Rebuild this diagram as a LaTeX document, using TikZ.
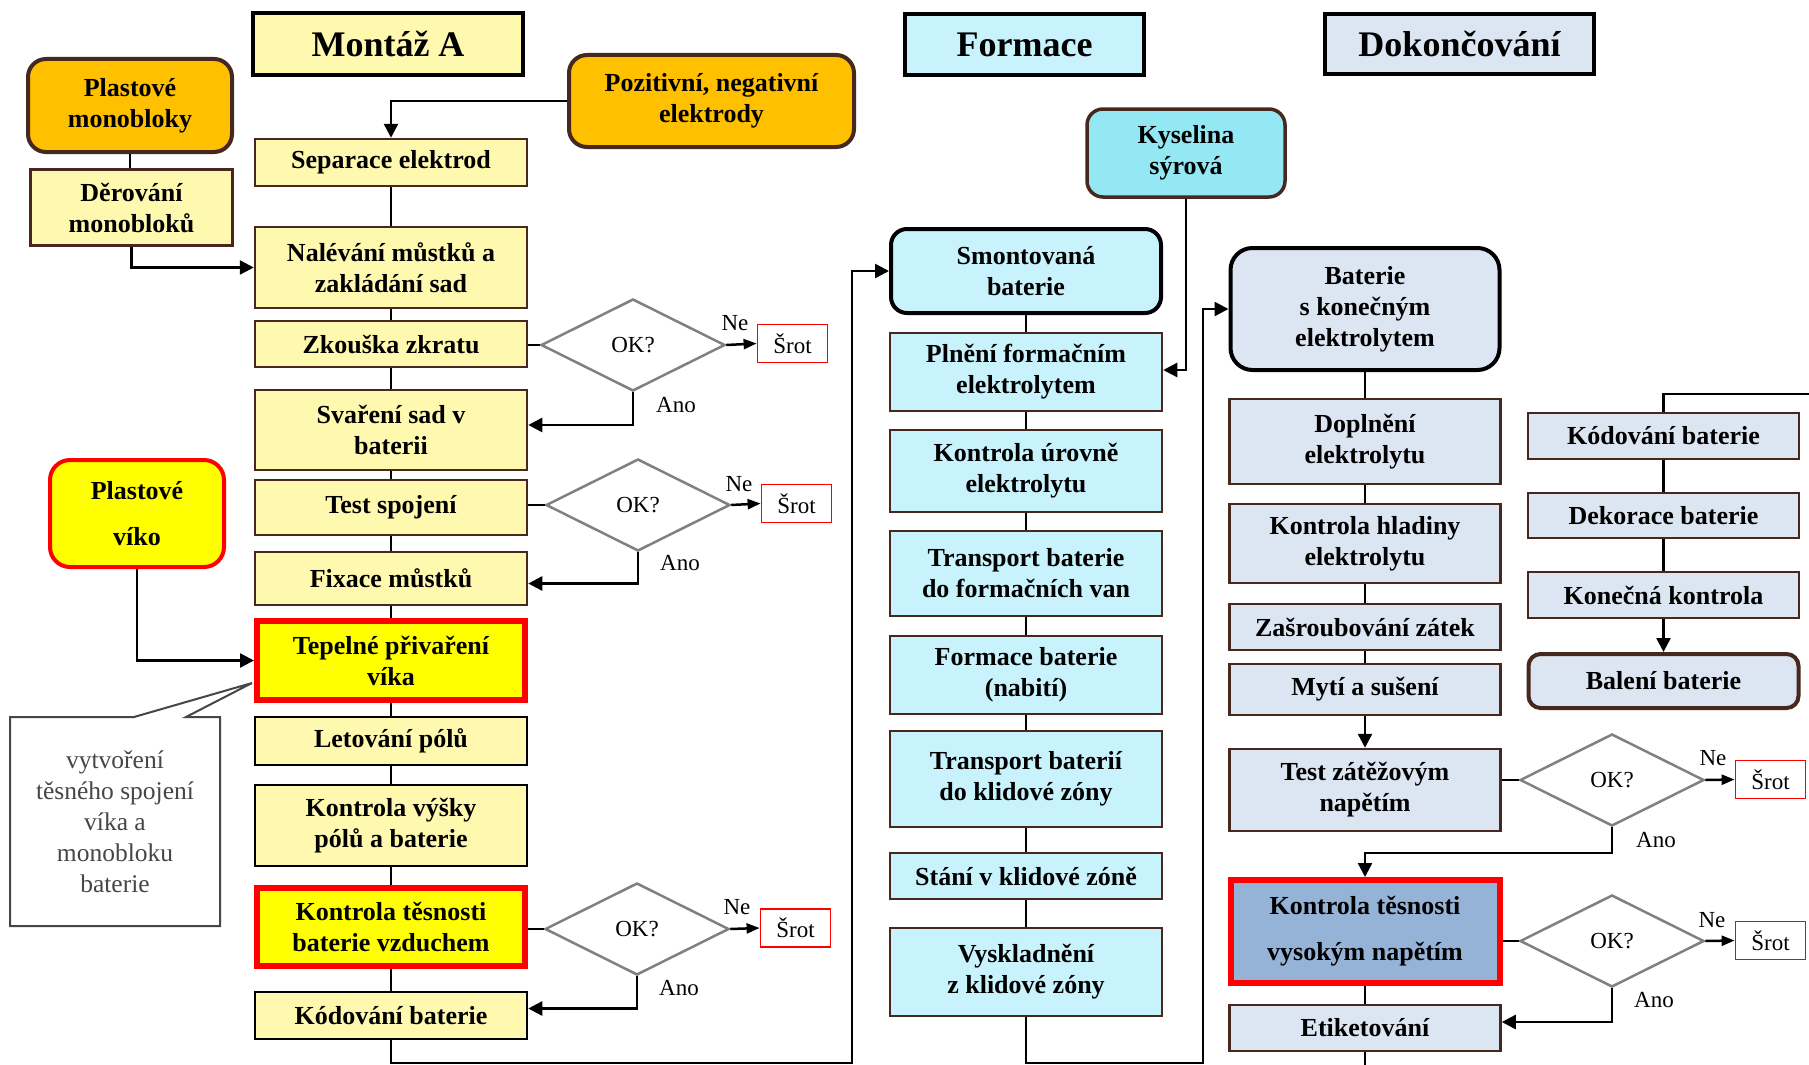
\documentclass[tikz,border=0pt]{standalone}
\usepackage{fontspec}
\setmainfont{Liberation Serif}
\usetikzlibrary{arrows.meta,shapes.geometric,calc}
\definecolor{ylw}{RGB}{255,248,175}
\definecolor{org}{RGB}{255,192,0}
\definecolor{brt}{RGB}{255,255,0}
\definecolor{cyl}{RGB}{200,243,252}
\definecolor{cyd}{RGB}{147,232,243}
\definecolor{bgr}{RGB}{220,230,242}
\definecolor{bdk}{RGB}{149,179,215}
\definecolor{brd}{RGB}{70,40,30}
\definecolor{dia}{RGB}{128,128,128}
\definecolor{cal}{RGB}{70,70,70}
\newcommand\boxfont{\fontsize{26}{31}\selectfont\bfseries}
\newcommand\titfont{\fontsize{36}{40}\selectfont\bfseries}
\newcommand\lblfont{\fontsize{23}{27}\selectfont}
\begin{document}
\begin{tikzpicture}[x=1pt,y=-1pt,
  base/.style={line width=2.5pt, align=center, font=\boxfont, inner sep=2pt, text=black},
  pbox/.style={base, draw=brd, fill=ylw, minimum width=272pt},
  kbox/.style={pbox, draw=black},
  rbox/.style={base, draw=red, line width=6pt, fill=brt, minimum width=268pt},
  fbox/.style={base, draw=brd, fill=cyl, minimum width=272pt},
  dbox/.style={base, draw=brd, fill=bgr, minimum width=271pt},
  rnd/.style={base, rounded corners=16pt, line width=4pt},
  tit/.style={base, draw=black, line width=4pt, font=\titfont},
  dec/.style={diamond, draw=dia, line width=2.5pt, fill=white, minimum width=184pt, minimum height=92pt, inner sep=0pt, aspect=2, font=\lblfont},
  srot/.style={draw=red, line width=1.8pt, minimum width=70pt, minimum height=38pt, inner sep=0pt, font=\lblfont},
  lbl/.style={font=\lblfont, inner sep=0pt},
  conn/.style={draw=black, line width=2.5pt},
  arr/.style={-{Triangle[length=14pt,width=14pt]}},
  sarr/.style={-{Triangle[length=13pt,width=10pt]}}
]
\useasboundingbox (0,0) rectangle (1809,1065);

% titles
\node[tit, fill=ylw, minimum width=270pt, minimum height=62pt] (tA) at (388,44) {Montáž A};
\node[tit, fill=cyl, minimum width=239pt, minimum height=61pt] (tF) at (1024.5,44.5) {Formace};
\node[tit, fill=bgr, minimum width=269pt, minimum height=60pt] (tD) at (1459.5,44) {Dokončování};

% inputs
\node[rnd, draw=brd, fill=org, minimum width=204pt, minimum height=93pt, rounded corners=18pt] (mono) at (130,105.5) {Plastové\\monobloky};
\node[pbox, minimum width=202pt, minimum height=76pt] (der) at (131.5,207.5) {Děrování\\monobloků};
\node[rnd, draw=brd, fill=org, minimum width=285pt, minimum height=92pt, rounded corners=18pt] (poz) at (711.5,101) {Pozitivní, negativní\\elektrody};
\node[rnd, draw=red, fill=brt, minimum width=174pt, minimum height=107pt, rounded corners=20pt, font=\fontsize{26}{46}\selectfont\bfseries] (vik) at (137,513.5) {Plastové\\víko};
\node[rnd, draw=brd, fill=cyd, minimum width=198pt, minimum height=88pt, line width=3.5pt] (kys) at (1186,153) {Kyselina\\sýrová};

% Montaz column
\node[pbox, minimum height=47pt] (sep) at (391,162.5) {Separace elektrod};
\node[pbox, minimum height=81pt] (nal) at (391,267.5) {Nalévání můstků a\\zakládání sad};
\node[pbox, minimum height=46pt] (zk) at (391,344) {Zkouška zkratu};
\node[pbox, minimum height=80pt] (sva) at (391,430) {Svaření sad v\\baterii};
\node[pbox, minimum height=55pt] (tst) at (391,507.5) {Test spojení};
\node[pbox, minimum height=53pt] (fix) at (391,578.5) {Fixace můstků};
\node[rbox, minimum height=79pt] (tep) at (391,660.5) {Tepelné přivaření\\víka};
\node[kbox, minimum height=48pt] (let) at (391,741) {Letování pólů};
\node[kbox, minimum height=81pt] (vys) at (391,825.5) {Kontrola výšky\\pólů a baterie};
\node[rbox, minimum height=78pt] (kts) at (391,927) {Kontrola těsnosti\\baterie vzduchem};
\node[kbox, minimum height=47pt] (kod) at (391,1015.5) {Kódování baterie};

% Formace column
\node[rnd, draw=black, fill=cyl, minimum width=270pt, minimum height=84pt] (smo) at (1026,271) {Smontovaná\\baterie};
\node[fbox, minimum height=78pt] (pln) at (1026,372) {Plnění formačním\\elektrolytem};
\node[fbox, minimum height=82pt] (kur) at (1026,471) {Kontrola úrovně\\elektrolytu};
\node[fbox, minimum height=85pt] (tr1) at (1026,573.5) {Transport baterie\\do formačních van};
\node[fbox, minimum height=78pt] (fb) at (1026,675) {Formace baterie\\(nabití)};
\node[fbox, minimum height=96pt] (tr2) at (1026,779) {Transport baterií\\do klidové zóny};
\node[fbox, minimum height=46pt] (sta) at (1026,876) {Stání v klidové zóně};
\node[fbox, minimum height=88pt] (vyk) at (1026,972) {Vyskladnění\\z klidové zóny};

% Dokonceni column
\node[rnd, draw=black, fill=bgr, minimum width=269pt, minimum height=122pt, rounded corners=22pt] (bsk) at (1365,309) {Baterie\\s konečným\\elektrolytem};
\node[dbox, minimum height=85pt] (dop) at (1365,441.5) {Doplnění\\elektrolytu};
\node[dbox, minimum height=79pt] (khl) at (1365,543.5) {Kontrola hladiny\\elektrolytu};
\node[dbox, minimum height=46pt] (zas) at (1365,627) {Zašroubování zátek};
\node[dbox, minimum height=51pt] (myt) at (1365,689.5) {Mytí a sušení};
\node[dbox, minimum height=82pt] (tz) at (1365,790) {Test zátěžovým\\napětím};
\node[base, draw=red, line width=6pt, fill=bdk, minimum width=269pt, minimum height=103pt, font=\fontsize{26}{46}\selectfont\bfseries] (kvn) at (1365,931.5) {Kontrola těsnosti\\vysokým napětím};
\node[dbox, minimum height=46pt] (eti) at (1365,1028) {Etiketování};

% right column
\node[dbox, minimum height=46pt] (kod2) at (1663.5,436) {Kódování baterie};
\node[dbox, minimum height=45pt] (dek) at (1663.5,515.5) {Dekorace baterie};
\node[dbox, minimum height=46pt] (kon) at (1663.5,595) {Konečná kontrola};
\node[rnd, draw=brd, fill=bgr, minimum width=270pt, minimum height=54pt, rounded corners=12pt] (bal) at (1663.5,681) {Balení baterie};

% decisions
\node[dec] (d1) at (633,345) {OK?};
\node[dec] (d2) at (638,505) {OK?};
\node[dec] (d3) at (637,929) {OK?};
\node[dec] (d4) at (1612,780) {OK?};
\node[dec] (d5) at (1612,941) {OK?};
\node[srot] (s1) at (792.5,343.5) {Šrot};
\node[srot] (s2) at (796.5,503.5) {Šrot};
\node[srot] (s3) at (795.5,928) {Šrot};
\node[srot] (s4) at (1770.5,779.5) {Šrot};
\node[srot] (s5) at (1770.5,940.5) {Šrot};
\node[lbl] (n1) at (735,323) {Ne};
\node[lbl] (n2) at (739,484) {Ne};
\node[lbl] (n3) at (737,907) {Ne};
\node[lbl] (n4) at (1713,758) {Ne};
\node[lbl] (n5) at (1712,920) {Ne};
\node[lbl] (a1) at (676,405) {Ano};
\node[lbl] (a2) at (680,563) {Ano};
\node[lbl] (a3) at (679,988) {Ano};
\node[lbl] (a4) at (1656,840) {Ano};
\node[lbl] (a5) at (1654,1000) {Ano};

% callout
\coordinate (tip) at (252,683);
\draw[draw=cal, line width=2pt, fill=white] (10,717) -- (134,717) -- (tip) -- (186,717) -- (220,717) -- (220,926) -- (10,926) -- cycle;
\node[font=\fontsize{25.5}{31}\selectfont, text=cal, align=center, inner sep=0pt] (cnote) at (115,822) {vytvoření\\těsného spojení\\víka a\\monobloku\\baterie};

% connectors
\draw[conn,arr] (poz.west) -| (sep.north);
\draw[conn] (mono.south) -- (mono.south |- der.north);
\draw[conn,arr] (der.south) |- (nal.west);
\draw[conn,arr] (vik.south) |- (tep.west);
\draw[conn] (sep) -- (nal) (nal) -- (zk) (zk) -- (sva) (sva) -- (tst) (tst) -- (fix) (fix) -- (tep) (tep) -- (let) (let) -- (vys) (vys) -- (kts) (kts) -- (kod);
\draw[conn] (zk.east |- d1.west) -- (d1.west);
\draw[conn] (tst.east |- d2.west) -- (d2.west);
\draw[conn] (kts.east |- d3.west) -- (d3.west);
\draw[conn,sarr] (d1.east) -- (s1.west);
\draw[conn,sarr] (d2.east) -- (s2.west);
\draw[conn,sarr] (d3.east) -- (s3.west);
\draw[conn,arr] (d1.south) |- ($(sva.east)+(0,-5)$);
\draw[conn,arr] (d2.south) |- ($(fix.east)+(0,5)$);
\draw[conn,arr] (d3.south) |- ($(kod.east)+(0,-7)$);
\coordinate (b1) at (852,1063);
\draw[conn,arr] (kod.south) |- (b1) |- (smo.west);
\draw[conn] (smo) -- (pln) (pln) -- (kur) (kur) -- (tr1) (tr1) -- (fb) (fb) -- (tr2) (tr2) -- (sta) (sta) -- (vyk);
\draw[conn,arr] (kys.south) |- ($(pln.east)+(0,-2)$);
\coordinate (b2) at (1203,1063);
\draw[conn,arr] (vyk.south) |- (b2) |- (bsk.west);
\draw[conn] (bsk) -- (dop) (dop) -- (khl) (khl) -- (zas) (zas) -- (myt);
\draw[conn,arr] (myt.south) -- (tz.north);
\draw[conn] (tz.east |- d4.west) -- (d4.west);
\draw[conn] (kvn.east |- d5.west) -- (d5.west);
\draw[conn,sarr] (d4.east) -- (s4.west);
\draw[conn,sarr] (d5.east) -- (s5.west);
\draw[conn,arr] (d4.south) |- ($(kvn.north)+(0,-24)$) -- (kvn.north);
\draw[conn,arr] (d5.south) |- ($(eti.east)+(0,-6)$);
\draw[conn] (kvn) -- (eti);
\coordinate (b3) at (1365,1068);
\draw[conn] (eti.south) -- (b3);
\coordinate (r1) at (1812,394);
\draw[conn] (r1) -| (kod2.north);
\draw[conn] (kod2) -- (dek) (dek) -- (kon);
\draw[conn,arr] (kon.south) -- (bal.north);
\end{tikzpicture}
\end{document}
